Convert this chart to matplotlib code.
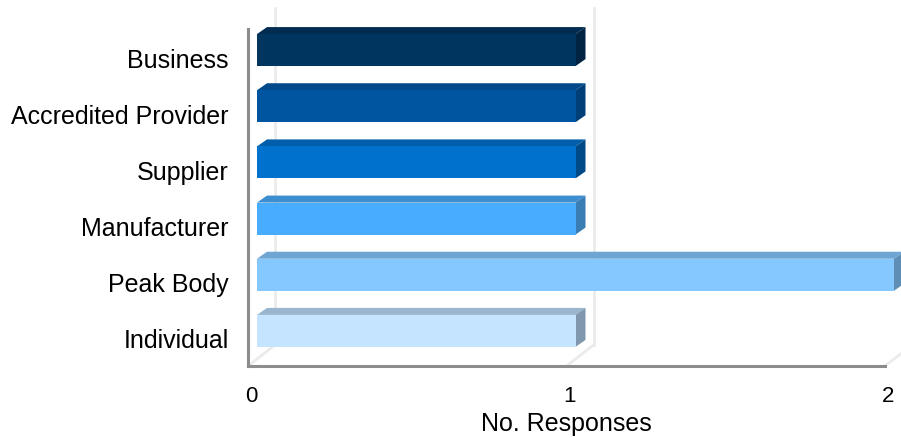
import matplotlib
matplotlib.use("Agg")
import matplotlib.pyplot as plt
from matplotlib.patches import Polygon
from matplotlib.transforms import ScaledTranslation

plt.rcParams['font.family'] = ['Liberation Sans', 'DejaVu Sans']

# data (bottom to top)
categories = ['Individual', 'Peak Body', 'Manufacturer', 'Supplier',
              'Accredited Provider', 'Business']
responses = [1, 2, 1, 1, 1, 1]
front_cols = ['#C4E4FF', '#85C7FF', '#48ADFF', '#0072CE', '#0055A0', '#00355F']
top_cols = ['#9AB6CE', '#6FA5D3', '#3D8ED0', '#005EAA', '#004A8C', '#002C52']
side_cols = ['#8098AE', '#5E8EB5', '#3A7DB5', '#004A88', '#003F78', '#002442']
xticks = [0, 1, 2]

W, H = 901, 439
fig = plt.figure(figsize=(W / 100, H / 100), dpi=100)
# front plane of the plot box in pixels: x 248..885, y 30..367
ax = fig.add_axes([248 / W, (H - 367) / H, 637 / W, 337 / H])
ax.set_xlim(0, 2)
ax.set_ylim(-0.5, 5.5)
ax.set_frame_on(False)

inv = ax.transData.inverted()
def off(dx, dy):
    # pixel offset -> data offset
    a = inv.transform((0, 0))
    b = inv.transform((dx, dy))
    return b[0] - a[0], b[1] - a[1]

DX, DY = off(27, 21)     # full depth of the box
fx, fy = off(9, 7)       # front face of bars
bx, by = off(19, 14)     # back face of bars
ymin, ymax = -0.5, 5.5
grid_col = '#EBEBEB'
axis_col = '#8C8C8C'

# back wall gridlines and floor diagonals
for t in xticks:
    ax.plot([t + DX, t + DX], [ymin + DY, ymax + DY], color=grid_col, lw=2,
            clip_on=False, zorder=1)
    ax.plot([t, t + DX], [ymin, ymin + DY], color=grid_col, lw=2,
            clip_on=False, zorder=1)

# front axis lines
ax.plot([0, 0], [ymin, ymax], color=axis_col, lw=2.2, clip_on=False, zorder=2)
ax.plot([0, 2], [ymin, ymin], color=axis_col, lw=2.2, clip_on=False, zorder=2)

h = 0.57
for i, v in enumerate(responses):
    y0 = i - h / 2 + fy
    y1 = i + h / 2 + fy
    x0 = fx
    x1 = v + fx
    ddx, ddy = bx - fx, by - fy
    top = Polygon([(x0, y1), (x1, y1), (x1 + ddx, y1 + ddy), (x0 + ddx, y1 + ddy)],
                  closed=True, facecolor=top_cols[i], edgecolor='none',
                  clip_on=False, zorder=3)
    side = Polygon([(x1, y0), (x1, y1), (x1 + ddx, y1 + ddy), (x1 + ddx, y0 + ddy)],
                   closed=True, facecolor=side_cols[i], edgecolor='none',
                   clip_on=False, zorder=3)
    ax.add_patch(top)
    ax.add_patch(side)
    ax.barh(i + fy, v, height=h, left=fx, color=front_cols[i], zorder=4,
            clip_on=False)

ax.set_yticks(range(len(categories)))
ax.set_yticklabels(categories, fontsize=18)
ax.set_xticks(xticks)
ax.set_xticklabels([str(t) for t in xticks], fontsize=16)
ax.tick_params(axis='y', length=0, pad=14)
ax.tick_params(axis='x', length=0, pad=14)
shift = ScaledTranslation(3 / 100, 0, fig.dpi_scale_trans)
for lab in ax.get_xticklabels():
    lab.set_transform(lab.get_transform() + shift)
ax.set_xlabel('No. Responses', fontsize=18, labelpad=3)

fig.savefig('out.png', dpi=100)
